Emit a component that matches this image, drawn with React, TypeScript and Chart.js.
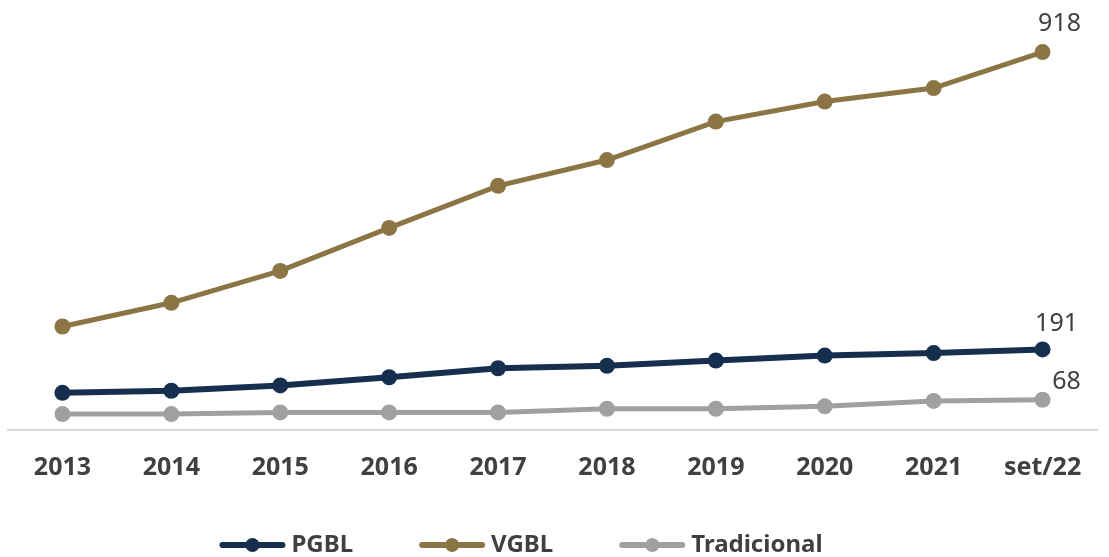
import React, { useEffect, useRef } from "react";
import { Chart, registerables } from "chart.js";

Chart.register(...registerables);

const categories = ["2013", "2014", "2015", "2016", "2017", "2018", "2019", "2020", "2021", "set/22"];
const pgbl = [85, 90, 103, 123, 145, 151, 164, 176, 182, 191];
const vgbl = [247, 305, 383, 488, 591, 654, 748, 797, 830, 918];
const tradicional = [33, 33, 37, 37, 37, 46, 46, 52, 65, 68];
const seriesNames = ["PGBL", "VGBL", "Tradicional"];
const seriesColors = ["#172F4F", "#8C7545", "#A0A0A0"];

const FONT_FAMILY = "'Noto Sans', 'Open Sans', sans-serif";
const W = 1109;
const H = 557;

// offsets of the last-point value labels (dx, dy) per series
const labelOffsets: [number, number][] = [
  [14, -26],
  [17, -28],
  [24, -18],
];

const lastValueLabels = {
  id: "lastValueLabels",
  afterDatasetsDraw(chart: any) {
    const { ctx } = chart;
    ctx.save();
    ctx.font = `400 25px ${FONT_FAMILY}`;
    ctx.fillStyle = "#404040";
    ctx.textAlign = "center";
    ctx.textBaseline = "middle";
    chart.data.datasets.forEach((ds: any, i: number) => {
      const meta = chart.getDatasetMeta(i);
      const last = meta.data.length - 1;
      const pt = meta.data[last];
      const [dx, dy] = labelOffsets[i];
      ctx.fillText(String(ds.data[last]), pt.x + dx, pt.y + dy);
    });
    ctx.restore();
  },
};

const customLegend = {
  id: "customLegend",
  afterDraw(chart: any) {
    const { ctx } = chart;
    const lineLen = 66;
    const textGap = 6;
    const itemGap = 66;
    const centerX = 521;
    const y = 545;
    ctx.save();
    ctx.font = `700 24px ${FONT_FAMILY}`;
    const widths = chart.data.datasets.map(
      (ds: any) => lineLen + textGap + ctx.measureText(ds.label).width
    );
    const total = widths.reduce((a: number, b: number) => a + b, 0) + itemGap * (widths.length - 1);
    let x = centerX - total / 2;
    chart.data.datasets.forEach((ds: any, i: number) => {
      ctx.strokeStyle = ds.borderColor;
      ctx.lineWidth = 6;
      ctx.lineCap = "round";
      ctx.beginPath();
      ctx.moveTo(x + 3, y);
      ctx.lineTo(x + lineLen - 3, y);
      ctx.stroke();
      ctx.fillStyle = ds.borderColor;
      ctx.beginPath();
      ctx.arc(x + lineLen / 2, y, 7, 0, Math.PI * 2);
      ctx.fill();
      ctx.fillStyle = "#404040";
      ctx.textAlign = "left";
      ctx.textBaseline = "middle";
      ctx.fillText(ds.label, x + lineLen + textGap, y);
      x += widths[i] + itemGap;
    });
    ctx.restore();
  },
};

export default function App() {
  const ref = useRef<HTMLCanvasElement>(null);
  useEffect(() => {
    if (!ref.current) return;
    const seriesData = [pgbl, vgbl, tradicional];
    const chart = new Chart(ref.current, {
      type: "line",
      data: {
        labels: categories,
        datasets: seriesData.map((d, i) => ({
          label: seriesNames[i],
          data: d,
          borderColor: seriesColors[i],
          backgroundColor: seriesColors[i],
          pointBackgroundColor: seriesColors[i],
          pointBorderColor: seriesColors[i],
          pointBorderWidth: 0,
          borderWidth: i === 0 ? 6 : 5,
          pointRadius: 8,
          pointHoverRadius: 8,
          tension: 0,
          fill: false,
        })),
      },
      options: {
        responsive: false,
        animation: false,
        layout: { padding: { left: 7, right: 12, top: 18.5, bottom: 51.4 } },
        plugins: {
          legend: { display: false },
          tooltip: { enabled: false },
        },
        scales: {
          x: {
            offset: true,
            grid: { display: false, drawTicks: false },
            border: { display: true, color: "#D9D9D9", width: 2 },
            ticks: {
              padding: 23,
              color: "#404040",
              font: { family: FONT_FAMILY, size: 25, weight: "bold" },
              maxRotation: 0,
              autoSkip: false,
            },
          },
          y: {
            display: false,
            min: -5,
            max: 1000,
          },
        },
      },
      plugins: [lastValueLabels, customLegend],
    });
    return () => chart.destroy();
  }, []);
  return (
    <div style={{ position: "absolute", left: 0, top: 0, width: W, height: H, background: "#fff" }}>
      <canvas ref={ref} width={W} height={H} />
    </div>
  );
}
